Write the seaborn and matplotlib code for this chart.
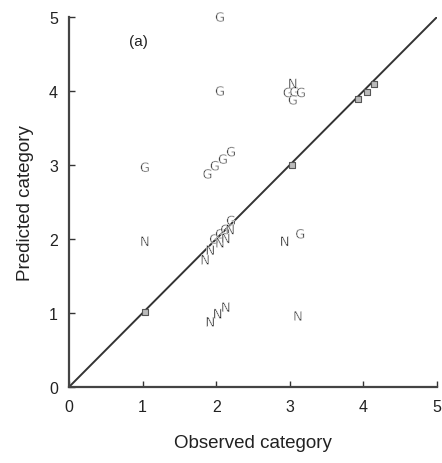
import matplotlib
matplotlib.use("Agg")
import matplotlib.pyplot as plt
import seaborn as sns
import pandas as pd

# Data
obs_G = [2.05, 2.05, 1.03, 1.88, 1.98, 2.09, 2.20, 2.97, 3.06, 3.15, 3.04, 3.14,
         1.97, 2.05, 2.12, 2.20]
pred_G = [5.00, 4.00, 2.97, 2.88, 2.99, 3.08, 3.18, 3.98, 3.99, 3.98, 3.88, 2.07,
          2.00, 2.07, 2.13, 2.25]
obs_N = [1.03, 2.93, 1.92, 2.02, 2.13, 3.11, 3.04, 1.85, 1.92, 2.05, 2.13, 2.19]
pred_N = [1.97, 1.97, 0.88, 0.99, 1.08, 0.96, 4.10, 1.72, 1.85, 1.95, 2.01, 2.13]
obs_D = [1.03, 3.03, 3.93, 4.05, 4.14]
pred_D = [1.01, 3.00, 3.89, 3.98, 4.09]
ticks = [0, 1, 2, 3, 4, 5]

df = pd.DataFrame({
    "obs": obs_G + obs_N + obs_D,
    "pred": pred_G + pred_N + pred_D,
    "grp": ["G"] * len(obs_G) + ["N"] * len(obs_N) + ["D"] * len(obs_D),
})

sns.set_style("ticks")
plt.rcParams["font.family"] = ["Liberation Sans", "DejaVu Sans"]

fig = plt.figure(figsize=(4.42, 4.64), dpi=100)
ax = fig.add_axes([69 / 442, 1 - 388 / 464, (437 - 69) / 442, (388 - 18) / 464])

# 1:1 line
sns.lineplot(x=[0, 5], y=[0, 5], ax=ax, color="#333333", lw=1.4, zorder=1)

letters = df[df.grp != "D"]
sns.scatterplot(data=letters, x="obs", y="pred", style="grp",
                markers={"G": r"$\mathrm{G}$", "N": r"$\mathrm{N}$"},
                color="#111111", s=48, linewidth=0.4, ax=ax, legend=False,
                zorder=3, clip_on=False)
diag = df[df.grp == "D"]
sns.scatterplot(data=diag, x="obs", y="pred", marker="s", s=22,
                facecolor="#bbbbbb", edgecolor="#555555", linewidth=0.8,
                ax=ax, legend=False, zorder=3, clip_on=False)

ax.text(0.94, 4.67, "(a)", fontsize=11, color="#222222", ha="center", va="center")

ax.set_xlim(0, 5)
ax.set_ylim(0, 5)
ax.set_xticks(ticks)
ax.set_yticks(ticks)
ax.tick_params(direction="in", length=4, width=1, labelsize=11.5, colors="#333333",
               labelcolor="#222222")
ax.tick_params(axis="x", pad=9)
ax.tick_params(axis="y", pad=8)
for side in ["top", "right"]:
    ax.spines[side].set_visible(False)
for side in ["left", "bottom"]:
    ax.spines[side].set_linewidth(1.6)
    ax.spines[side].set_color("#444444")
ax.set_xlabel("Observed category", fontsize=13.5, color="#222222", labelpad=14)
ax.set_ylabel("Predicted category", fontsize=13.5, color="#222222", labelpad=11)

fig.savefig("out.png", dpi=100)
